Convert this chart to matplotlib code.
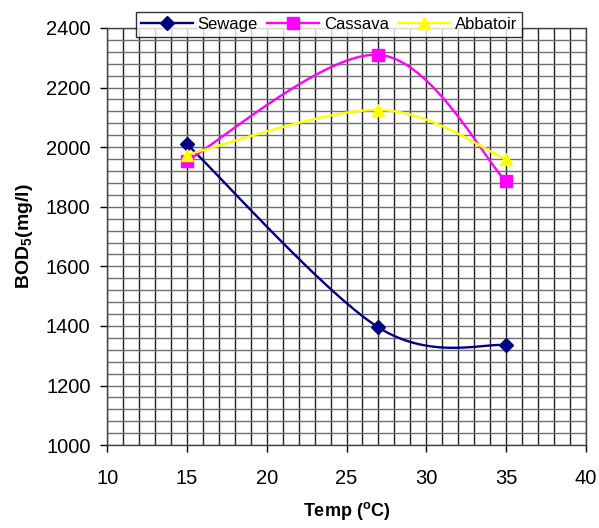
import numpy as np
import matplotlib
matplotlib.use("Agg")
import matplotlib.pyplot as plt
from matplotlib.ticker import MultipleLocator

plt.rcParams['font.family'] = ['Liberation Sans', 'DejaVu Sans']

temps = [15, 27, 35]
sewage = [2010, 1395, 1335]
cassava = [1955, 2310, 1885]
abbatoir = [1975, 2125, 1960]


def smooth(xs, ys, n=60):
    """Catmull-Rom style cubic Bezier through the points (spreadsheet-like smoothing)."""
    xs = np.asarray(xs, float)
    ys = np.asarray(ys, float)
    px = np.concatenate([[xs[0]], xs, [xs[-1]]])
    py = np.concatenate([[ys[0]], ys, [ys[-1]]])
    out_x, out_y = [], []
    t = np.linspace(0, 1, n)
    for i in range(1, len(px) - 2):
        p0 = np.array([px[i], py[i]])
        p3 = np.array([px[i + 1], py[i + 1]])
        c1 = p0 + (np.array([px[i + 1], py[i + 1]]) - np.array([px[i - 1], py[i - 1]])) / 6
        c2 = p3 - (np.array([px[i + 2], py[i + 2]]) - np.array([px[i], py[i]])) / 6
        b = ((1 - t) ** 3)[:, None] * p0 + (3 * (1 - t) ** 2 * t)[:, None] * c1 \
            + (3 * (1 - t) * t ** 2)[:, None] * c2 + (t ** 3)[:, None] * p3
        out_x.extend(b[:, 0])
        out_y.extend(b[:, 1])
    return out_x, out_y


fig = plt.figure(figsize=(5.99, 5.28), dpi=100)
ax = fig.add_axes([0.179, 0.157, 0.799, 0.790])

series = [
    ("Sewage", sewage, "#000080", "D", 7.5),
    ("Cassava", cassava, "#FF00FF", "s", 8.5),
    ("Abbatoir", abbatoir, "#FFFF00", "^", 9),
]
handles = []
for name, vals, col, mk, ms in series:
    sx, sy = smooth(temps, vals)
    ax.plot(sx, sy, color=col, lw=1.7, zorder=3)
    ax.plot(temps, vals, linestyle='none', marker=mk, color=col, ms=ms, zorder=4)
    h, = ax.plot([], [], color=col, lw=1.7, marker=mk, ms=ms)
    handles.append((h, name))

ax.set_xlim(10, 40)
ax.set_ylim(1000, 2400)
ax.xaxis.set_major_locator(MultipleLocator(5))
ax.yaxis.set_major_locator(MultipleLocator(200))
ax.xaxis.set_minor_locator(MultipleLocator(1))
ax.yaxis.set_minor_locator(MultipleLocator(40))
ax.grid(which='both', axis='x', color='#202020', lw=1.0)
ax.grid(which='both', axis='y', color='#707070', lw=1.0)
ax.set_axisbelow(True)
ax.tick_params(which='major', direction='out', length=5, width=1, labelsize=14.5, colors='black')
ax.tick_params(axis='x', which='major', pad=12)
ax.tick_params(axis='y', which='major', pad=7)
ax.tick_params(which='minor', length=0)
for s in ax.spines.values():
    s.set_color('#404040')
    s.set_linewidth(1)

ax.set_xlabel("Temp ($^{\\mathregular{o}}$C)", fontsize=13, fontweight='bold', labelpad=9)
ax.set_ylabel("BOD$_{\\mathregular{5}}$(mg/l)", fontsize=14, fontweight='bold', labelpad=8)

leg = fig.legend([h for h, _ in handles], [n for _, n in handles],
                 loc='upper left', bbox_to_anchor=(136 / 599, 1 - 12 / 528),
                 ncol=3, fontsize=12, frameon=True, fancybox=False, edgecolor='black',
                 handlelength=3.1, handletextpad=0.3, columnspacing=0.55,
                 borderpad=0.3, borderaxespad=0)
leg.get_frame().set_linewidth(1)

fig.savefig("out.png", dpi=100, facecolor='white')
